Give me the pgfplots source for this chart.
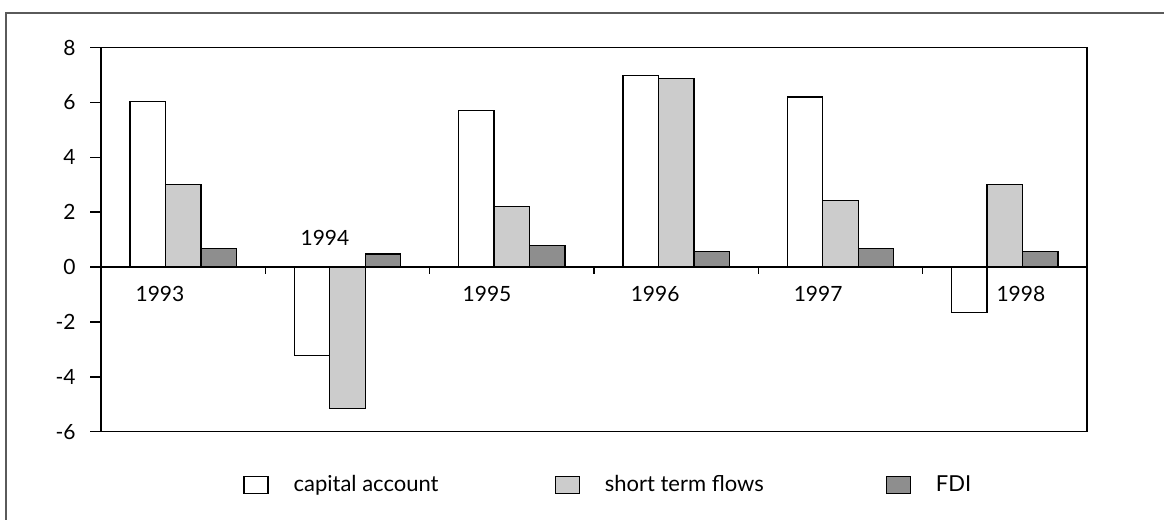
\documentclass[border=0pt]{standalone}
\usepackage{pgfplots}
\pgfplotsset{compat=1.18}
\usepackage{fontspec}
\setmainfont{Lato}
\definecolor{lgray}{RGB}{204,204,204}
\definecolor{dgray}{RGB}{142,142,142}
\definecolor{framec}{RGB}{90,90,90}
\pgfplotsset{
  mybar/.style={ybar, bar width=0.216, draw=black, line width=0.6pt,
    legend image code/.code={\draw[##1, line width=0.6pt] (0pt,-4.25pt) rectangle (12pt,4.25pt);}},
}
\begin{document}
\begin{tikzpicture}[x=1pt,y=1pt]
\path[use as bounding box] (0,0) rectangle (582,260);
\draw[framec, line width=1pt] (3,0) -- (3,253.5) -- (582,253.5);
\begin{axis}[
  at={(50.5pt,44.15pt)}, anchor=south west,
  scale only axis, width=493pt, height=192pt,
  xmin=-0.5, xmax=5.5, ymin=-6, ymax=8,
  xtick=\empty,
  ytick={-6,-4,-2,0,2,4,6,8},
  yticklabels={-6,-4,-2,0,2,4,6,8},
  ytick pos=left, tick align=outside, major tick length=5.5pt,
  tick style={black, line width=0.8pt},
  axis line style={line width=0.8pt},
  font=\fontsize{10.5}{12}\selectfont,
  yticklabel style={anchor=east, inner sep=0pt},
  yticklabel shift=7pt,
  legend columns=3,
  legend cell align=left,
  legend style={draw=none, fill=none, inner sep=0pt,
    at={(axis description cs:0.144,-0.139)}, anchor=west,
    nodes={inner sep=0pt},
    /tikz/every odd column/.append style={column sep=12.5pt},
    font=\fontsize{11}{13}\selectfont},
]
\addplot[mybar, bar shift=-0.216, fill=white] coordinates {(0,6.05) (1,-3.22) (2,5.72) (3,6.99) (4,6.2) (5,-1.66)};
\addlegendentry{\makebox[130.5pt][l]{capital account}}
\addplot[mybar, bar shift=0, fill=lgray] coordinates {(0,3.0) (1,-5.15) (2,2.22) (3,6.89) (4,2.42) (5,3.0)};
\addlegendentry{\makebox[140.5pt][l]{short term flows}}
\addplot[mybar, bar shift=0.216, fill=dgray] coordinates {(0,0.68) (1,0.48) (2,0.79) (3,0.57) (4,0.68) (5,0.57)};
\addlegendentry{FDI}
\draw[line width=0.8pt] (axis cs:-0.5,0) -- (axis cs:5.5,0);
\pgfplotsinvokeforeach{0.5,1.5,2.5,3.5,4.5}{\draw[line width=0.8pt] (axis cs:#1,0) -- ++(0pt,-3.5pt);}
\node at (axis cs:-0.141,-0.98) {1993};
\node at (axis cs:0.863,1.06) {1994};
\node at (axis cs:1.849,-0.98) {1995};
\node at (axis cs:2.872,-0.98) {1996};
\node at (axis cs:3.864,-0.98) {1997};
\node at (axis cs:5.098,-0.98) {1998};
\end{axis}
\end{tikzpicture}
\end{document}
